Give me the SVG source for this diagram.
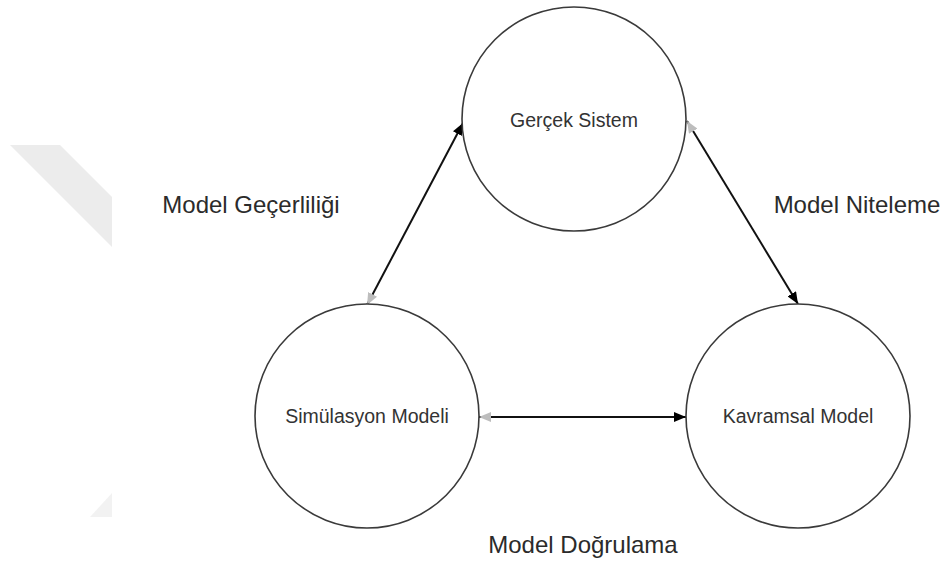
<svg xmlns="http://www.w3.org/2000/svg" width="950" height="563" viewBox="0 0 950 563">
  <defs>
    <marker id="head" viewBox="0 0 12 10" refX="12" refY="5" markerWidth="12" markerHeight="10" markerUnits="userSpaceOnUse" orient="auto">
      <path d="M0,0 L12,5 L0,10 Z" fill="#000"/>
    </marker>
    <marker id="tail" viewBox="0 0 12 10" refX="12" refY="5" markerWidth="12" markerHeight="10" markerUnits="userSpaceOnUse" orient="auto-start-reverse">
      <path d="M0,0 L12,5 L0,10 Z" fill="#bdbdbd"/>
    </marker>
  </defs>
  <style>
    .node circle { fill: #fff; stroke: #3a3a3a; stroke-width: 1.6; }
    .node text { font-family: "Liberation Sans", Arial, sans-serif; font-size: 19.5px; fill: #333; text-anchor: middle; }
    .label { font-family: "Liberation Sans", Arial, sans-serif; font-size: 24px; fill: #2b2b2b; text-anchor: middle; }
    .edge { stroke: #111; stroke-width: 2; fill: none; marker-start: url(#tail); marker-end: url(#head); }
    .mark { fill: #ececec; }
  </style>

  <rect width="950" height="563" fill="#fff"/>

  <!-- faint background band on the left -->
  <g id="backdrop">
    <polygon class="mark" points="10,145 60,145 112,197 112,247"/>
    <polygon class="mark" points="90,517 112,493 112,517" fill-opacity="0.7"/>
  </g>

  <g id="connectors">
    <line class="edge" x1="367" y1="305" x2="463" y2="123"/>
    <line class="edge" x1="687" y1="121" x2="798" y2="304"/>
    <line class="edge" x1="479" y1="417" x2="686" y2="417"/>
  </g>

  <g id="gercek-sistem" class="node">
    <circle cx="574" cy="119" r="112"/>
    <text x="574" y="127">Gerçek Sistem</text>
  </g>
  <g id="simulasyon-modeli" class="node">
    <circle cx="367" cy="416" r="112"/>
    <text x="367" y="423">Simülasyon Modeli</text>
  </g>
  <g id="kavramsal-model" class="node">
    <circle cx="798" cy="416" r="112"/>
    <text x="798" y="423">Kavramsal Model</text>
  </g>

  <g id="labels">
    <text class="label" x="251" y="213">Model Geçerliliği</text>
    <text class="label" x="857" y="213">Model Niteleme</text>
    <text class="label" x="583" y="553">Model Doğrulama</text>
  </g>
</svg>
